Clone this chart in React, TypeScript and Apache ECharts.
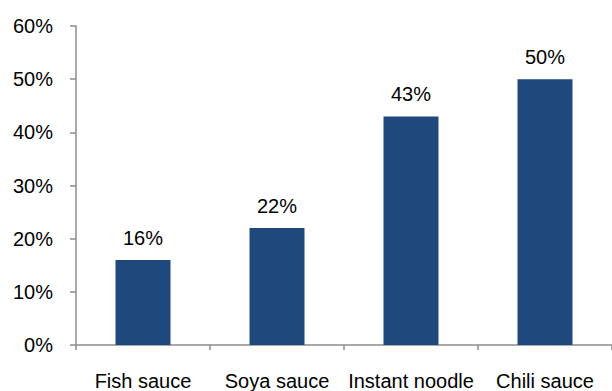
import React, { useEffect, useRef } from "react";
import * as echarts from "echarts";

const categories = ["Fish sauce", "Soya sauce", "Instant noodle", "Chili sauce"];
const values = [16, 22, 43, 50];
const yTicks = [0, 10, 20, 30, 40, 50, 60];

export default function App() {
  const ref = useRef<HTMLDivElement>(null);
  useEffect(() => {
    if (!ref.current) return;
    const chart = echarts.init(ref.current, null, { renderer: "svg" });
    const font = "Liberation Sans, Arial, sans-serif";
    chart.setOption({
      animation: false,
      grid: { left: 76, top: 26, width: 548, height: 322, containLabel: false },
      xAxis: {
        type: "category",
        data: categories,
        axisLine: { lineStyle: { color: "#8c8c8c", width: 1.5 } },
        axisTick: { show: true, length: 5, lineStyle: { color: "#8c8c8c", width: 1.5 } },
        axisLabel: { color: "#000", fontSize: 20, fontFamily: font, margin: 26, interval: 0 },
      },
      yAxis: {
        type: "value",
        min: yTicks[0],
        max: yTicks[yTicks.length - 1],
        interval: 10,
        splitLine: { show: false },
        axisLine: { show: true, lineStyle: { color: "#8c8c8c", width: 1.5 } },
        axisTick: { show: true, length: 6, lineStyle: { color: "#8c8c8c", width: 1.5 } },
        axisLabel: {
          color: "#000",
          fontSize: 20,
          fontFamily: font,
          margin: 23,
          formatter: (v: number) => v + "%",
        },
      },
      series: [
        {
          type: "bar",
          data: values,
          barWidth: 55,
          itemStyle: { color: "#1F497D" },
          label: {
            show: true,
            position: "top",
            distance: 12,
            color: "#000",
            fontSize: 20,
            fontFamily: font,
            formatter: (p: any) => p.value + "%",
          },
        },
      ],
    });
    return () => chart.dispose();
  }, []);
  return (
    <div
      ref={ref}
      style={{ position: "fixed", left: 0, top: 0, width: 612, height: 391, background: "#fff" }}
    />
  );
}
